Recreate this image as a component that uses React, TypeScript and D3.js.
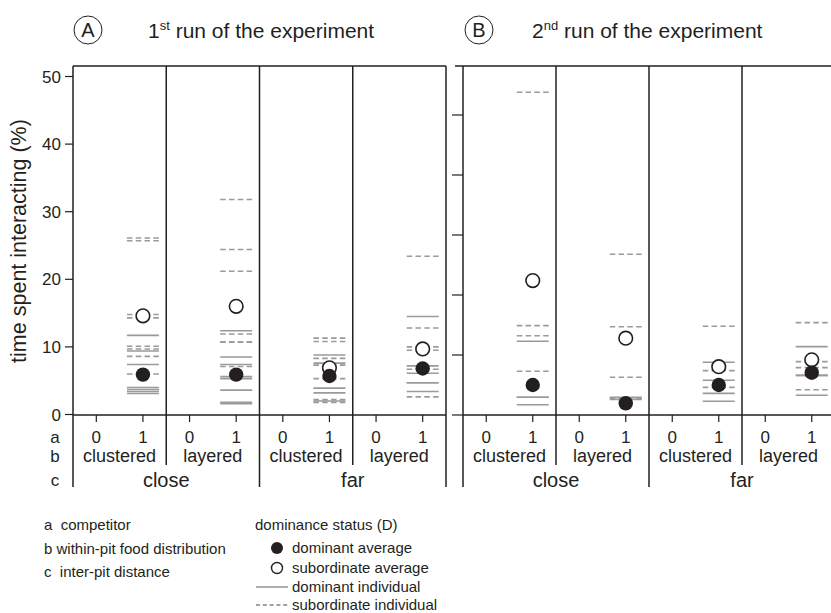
import React from "react";
import * as d3 from "d3";

// ---------- data ----------
const distribution = ["clustered", "layered", "clustered", "layered"];
const distance = ["close", "far"];
const competitor = ["0", "1"];
const yTicks = [0, 10, 20, 30, 40, 50];
const rowKeys = ["a", "b", "c"];
const factorLegend = ["a  competitor", "b within-pit food distribution", "c  inter-pit distance"];
const statusLegend = ["dominant average", "subordinate average", "dominant individual", "subordinate individual"];
const panelLetters = ["A", "B"];
const runOrdinal = [["1", "st"], ["2", "nd"]];
const runTitle = " run of the experiment";

// run 1 (A): values at competitor = 1 for each facet
const domIndA = [
  [11.7, 9.4, 7.4, 4.0, 3.7, 3.4, 3.1],
  [12.4, 8.5, 7.4, 5.6, 5.3, 3.6, 1.8, 1.6],
  [8.8, 7.6, 3.9, 3.2, 2.0],
  [14.5, 7.2, 6.1, 4.7, 4.7, 3.4],
];
const subIndA = [
  [26.1, 25.7, 14.8, 14.3, 10.1, 9.7, 8.6, 6.0],
  [31.8, 24.4, 21.2, 11.9, 10.7, 10.7, 7.1],
  [11.3, 10.8, 8.3, 7.3, 5.3, 2.2, 1.8],
  [23.4, 12.8, 10.0, 9.5, 6.7, 2.6],
];
const domAvgA = [5.9, 5.9, 5.7, 6.8];
const subAvgA = [14.6, 16.0, 6.9, 9.7];

// run 2 (B)
const domIndB = [
  [12.3, 2.95, 2.95, 1.7],
  [2.95, 2.6],
  [8.8, 5.8, 3.6, 2.3],
  [11.4, 6.6, 6.6, 3.3],
];
const subIndB = [
  [53.8, 14.9, 13.2, 7.3],
  [26.8, 14.7, 6.3, 2.8],
  [14.8, 7.4, 4.6],
  [15.4, 8.9, 7.9, 4.2],
];
const domAvgB = [5.0, 1.95, 5.0, 7.05];
const subAvgB = [22.4, 12.8, 8.05, 9.2];

// ---------- layout ----------
const W = 831;
const H = 613;
const FONT = "'Liberation Sans', Arial, Helvetica, sans-serif";
const TOP = 66;
const AXIS_Y = 415;
const TXT = "#231f20";
const LINE_GREY = "#9a9a9a";

const panels = [
  { left: 73, right: 446, y0: 414.5, y50: 76.5, topStart: 73, labels: true, tickLen: 8,
    dom: domIndA, sub: subIndA, domAvg: domAvgA, subAvg: subAvgA, circleX: 88, titleX: 148 },
  { left: 463, right: 835, y0: 415, y50: 115, topStart: 455, labels: false, tickLen: 11,
    dom: domIndB, sub: subIndB, domAvg: domAvgB, subAvg: subAvgB, circleX: 479, titleX: 532 },
];

function Panel({ p, idx }: { p: any; idx: number }) {
  const xFacet = d3.scaleBand<number>().domain(d3.range(distribution.length)).range([p.left, p.right]);
  const bw = xFacet.bandwidth();
  const xComp = d3.scalePoint<string>().domain(competitor).range([0, bw]).padding(0.5);
  const y = d3.scaleLinear().domain([0, 50]).range([p.y0, p.y50]);
  const halfLen = 16;
  const dataX = (f: number) => (xFacet(f) as number) + (xComp("1") as number);

  return (
    <g>
      {/* circled letter + title */}
      <circle cx={p.circleX} cy={30} r={14} fill="none" stroke={TXT} strokeWidth={1} />
      <text x={p.circleX} y={37} textAnchor="middle" fontSize={20} fill={TXT}>{panelLetters[idx]}</text>
      <text x={p.titleX} y={37.5} fontSize={21} fill={TXT}>
        {runOrdinal[idx][0]}
        <tspan fontSize={13} dy={-8}>{runOrdinal[idx][1]}</tspan>
        <tspan dy={8}>{runTitle}</tspan>
      </text>

      {/* frame */}
      <line x1={p.topStart} x2={p.right} y1={TOP} y2={TOP} stroke={TXT} strokeWidth={1.5} />
      <line x1={p.left} x2={p.right} y1={AXIS_Y} y2={AXIS_Y} stroke={TXT} strokeWidth={1.5} />
      <line x1={p.left} x2={p.left} y1={TOP} y2={487} stroke={TXT} strokeWidth={1.5} />
      {d3.range(1, distribution.length + 1).map((f) => {
        const x = f < distribution.length ? (xFacet(f) as number) : p.right;
        const bottom = f % 2 === 0 ? 487 : 465;
        return <line key={f} x1={x} x2={x} y1={TOP} y2={bottom} stroke={TXT} strokeWidth={1.5} />;
      })}

      {/* y ticks */}
      {yTicks.map((t) => (
        <g key={t}>
          <line x1={p.left - p.tickLen} x2={p.left} y1={y(t)} y2={y(t)} stroke={TXT} strokeWidth={1.2} />
          {p.labels && (
            <text x={p.left - 12} y={y(t) + 6} textAnchor="end" fontSize={17} fill={TXT}>{t}</text>
          )}
        </g>
      ))}

      {/* x ticks and labels */}
      {d3.range(distribution.length).map((f) => (
        <g key={f}>
          {competitor.map((c) => {
            const x = (xFacet(f) as number) + (xComp(c) as number);
            return (
              <g key={c}>
                <line x1={x} x2={x} y1={AXIS_Y} y2={AXIS_Y + 7} stroke={TXT} strokeWidth={1.2} />
                <text x={x} y={443} textAnchor="middle" fontSize={17} fill={TXT}>{c}</text>
              </g>
            );
          })}
          <text x={(xFacet(f) as number) + bw / 2} y={462} textAnchor="middle" fontSize={18} fill={TXT}>
            {distribution[f]}
          </text>
        </g>
      ))}
      {distance.map((d, i) => (
        <text key={d} x={(xFacet(i * 2) as number) + bw} y={487} textAnchor="middle" fontSize={20} fill={TXT}>{d}</text>
      ))}

      {/* individual lines */}
      {p.dom.map((vals: number[], f: number) =>
        vals.map((v, j) => (
          <line key={`d${f}-${j}`} x1={dataX(f) - halfLen} x2={dataX(f) + halfLen} y1={y(v)} y2={y(v)}
            stroke={LINE_GREY} strokeWidth={1.6} />
        ))
      )}
      {p.sub.map((vals: number[], f: number) =>
        vals.map((v, j) => (
          <line key={`s${f}-${j}`} x1={dataX(f) - halfLen} x2={dataX(f) + halfLen} y1={y(v)} y2={y(v)}
            stroke={LINE_GREY} strokeWidth={1.6} strokeDasharray="5.5 3.3" />
        ))
      )}
      {/* averages */}
      {p.subAvg.map((v: number, f: number) => (
        <circle key={`sa${f}`} cx={dataX(f)} cy={y(v)} r={6.8} fill="#fff" stroke={TXT} strokeWidth={1.6} />
      ))}
      {p.domAvg.map((v: number, f: number) => (
        <circle key={`da${f}`} cx={dataX(f)} cy={y(v)} r={7.2} fill={TXT} />
      ))}
    </g>
  );
}

export default function App() {
  return (
    <svg width={W} height={H} style={{ position: "absolute", left: 0, top: 0, background: "#fff" }}
      fontFamily={FONT}>
      <rect width={W} height={H} fill="#fff" />
      {panels.map((p, i) => <Panel key={i} p={p} idx={i} />)}

      {/* y axis label */}
      <text transform="translate(26,241) rotate(-90)" textAnchor="middle" fontSize={21.5} fill={TXT}>
        time spent interacting (%)
      </text>

      {/* row keys */}
      {rowKeys.map((k, i) => (
        <text key={k} x={55} y={[443, 462, 486][i]} textAnchor="middle" fontSize={17} fill={TXT}>{k}</text>
      ))}

      {/* legend: factors */}
      {factorLegend.map((t, i) => (
        <text key={t} x={44} y={530 + i * 23.5} fontSize={15} fill={TXT} style={{ whiteSpace: "pre" }}>{t}</text>
      ))}

      {/* legend: dominance status */}
      <text x={255} y={530} fontSize={15} fill={TXT}>dominance status (D)</text>
      <circle cx={277} cy={548} r={6} fill={TXT} />
      <circle cx={277} cy={568} r={5.5} fill="#fff" stroke={TXT} strokeWidth={1.4} />
      <line x1={256} x2={288} y1={587} y2={587} stroke="#777" strokeWidth={1.2} />
      <line x1={256} x2={288} y1={605} y2={605} stroke="#444" strokeWidth={1.2} strokeDasharray="4 2.8" />
      {statusLegend.map((t, i) => (
        <text key={t} x={292} y={[553, 573, 592, 610][i]} fontSize={15} fill={TXT}>{t}</text>
      ))}
    </svg>
  );
}
